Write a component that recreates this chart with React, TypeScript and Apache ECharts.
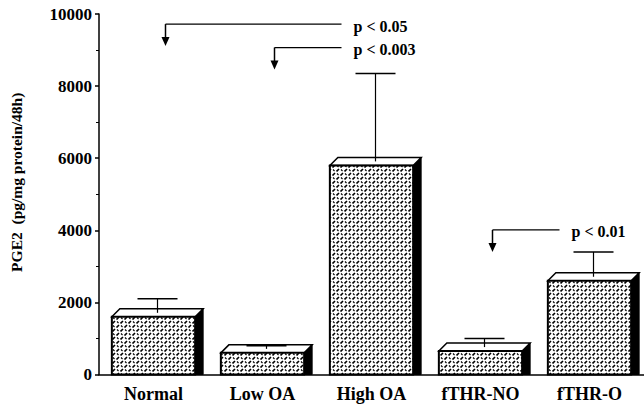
import React, { useEffect, useRef } from "react";
import * as echarts from "echarts";

const categories = ["Normal", "Low OA", "High OA", "fTHR-NO", "fTHR-O"];
const means = [1600, 600, 5800, 650, 2600];
const errors = [500, 200, 2550, 350, 800];
const yTicks = [0, 2000, 4000, 6000, 8000, 10000];
const pLabels = ["p < 0.05", "p < 0.003", "p < 0.01"];
const pFrom = [0, 1, 3];
const pTo = [2, 2, 4];
const pLevel = [9720, 9070, 4010];

const FONT = "'Liberation Serif', 'Times New Roman', serif";

const tileSvg =
  "<svg xmlns='http://www.w3.org/2000/svg' width='8' height='8'>" +
  "<rect width='8' height='8' fill='white'/>" +
  "<path d='M0.5 3.5 L3 1 M4.5 7.5 L7 5' stroke='black' stroke-width='1.6'/>" +
  "<path d='M5 1.5 L6.5 3 M1 5.5 L2.5 7' stroke='black' stroke-width='1.1'/>" +
  "</svg>";
const tileUrl = "data:image/svg+xml;utf8," + encodeURIComponent(tileSvg);

export default function App() {
  const ref = useRef<HTMLDivElement>(null);
  useEffect(() => {
    document.body.style.margin = "0";
    const chart = echarts.init(ref.current!, null, { renderer: "svg" });
    const D = 8;
    chart.setOption({
      animation: false,
      backgroundColor: "#ffffff",
      grid: { left: 95, top: 14, width: 550, height: 360.5 },
      xAxis: {
        type: "category",
        data: categories,
        boundaryGap: true,
        axisLine: { show: true, lineStyle: { color: "#000", width: 1.5 } },
        axisTick: { show: false },
        axisLabel: {
          color: "#000",
          fontFamily: FONT,
          fontWeight: "bold",
          fontSize: 18,
          margin: 10,
        },
      },
      yAxis: {
        type: "value",
        min: yTicks[0],
        max: yTicks[yTicks.length - 1],
        interval: 2000,
        splitLine: { show: false },
        axisLine: { show: true, lineStyle: { color: "#000", width: 1.5 } },
        axisTick: { show: true, length: 4, lineStyle: { color: "#000", width: 1.5 } },
        minorTick: { show: true, splitNumber: 2, length: 3, lineStyle: { color: "#000", width: 1 } },
        axisLabel: {
          color: "#000",
          fontFamily: FONT,
          fontWeight: "bold",
          fontSize: 17,
          margin: 7,
          formatter: (v: number) => String(v),
        },
        name: "PGE2  (pg/mg protein/48h)",
        nameLocation: "middle",
        nameGap: 75,
        nameTextStyle: {
          fontFamily: FONT,
          fontWeight: "bold",
          fontSize: 15.5,
          color: "#000",
          padding: [0, 0, 0, 24],
        },
      },
      series: [
        {
          type: "custom",
          name: "bars",
          data: means.map((m, i) => [i, m]),
          encode: { x: 0, y: 1 },
          renderItem: (params: any, api: any) => {
            const idx = api.value(0);
            const v = api.value(1);
            const [cx, yTop] = api.coord([idx, v]);
            const [, yBase] = api.coord([idx, 0]);
            const bw = api.size([1, 0])[0] * 0.764;
            const x0 = cx - bw / 2;
            const x1 = cx + bw / 2;
            return {
              type: "group",
              children: [
                {
                  type: "polygon",
                  shape: { points: [[x1, yTop], [x1 + D, yTop - D], [x1 + D, yBase], [x1, yBase]] },
                  style: { fill: "#000", stroke: "#000", lineWidth: 1 },
                },
                {
                  type: "polygon",
                  shape: { points: [[x0, yTop], [x0 + D, yTop - D], [x1 + D, yTop - D], [x1, yTop]] },
                  style: { fill: "#fff", stroke: "#000", lineWidth: 1.5 },
                },
                {
                  type: "rect",
                  shape: { x: x0, y: yTop, width: bw, height: yBase - yTop },
                  style: {
                    fill: { image: tileUrl, repeat: "repeat", imageWidth: 8, imageHeight: 8 },
                    stroke: "#000",
                    lineWidth: 2,
                  },
                },
              ],
            };
          },
          z: 2,
        },
        {
          type: "custom",
          name: "errors",
          data: means.map((m, i) => [i, m, m + errors[i]]),
          encode: { x: 0, y: [1, 2] },
          renderItem: (params: any, api: any) => {
            const idx = api.value(0);
            const [cx, yTop] = api.coord([idx, api.value(1)]);
            const [, yErr] = api.coord([idx, api.value(2)]);
            const sx = cx + 4;
            return {
              type: "group",
              children: [
                {
                  type: "line",
                  shape: { x1: sx, y1: yTop - 4, x2: sx, y2: yErr },
                  style: { stroke: "#000", lineWidth: 1.2 },
                },
                {
                  type: "line",
                  shape: { x1: sx - 20, y1: yErr, x2: sx + 20, y2: yErr },
                  style: { stroke: "#000", lineWidth: 1.5 },
                },
              ],
            };
          },
          z: 3,
        },
        {
          type: "custom",
          name: "annotations",
          data: pLabels.map((_, k) => [pFrom[k], pLevel[k], pTo[k], k]),
          encode: { x: 0, y: 1 },
          renderItem: (params: any, api: any) => {
            const [fx, ly] = api.coord([api.value(0), api.value(1)]);
            const [tx] = api.coord([api.value(2), api.value(1)]);
            const ax = fx + 12;
            const ex = tx - 30;
            const label = pLabels[api.value(3)];
            return {
              type: "group",
              children: [
                {
                  type: "line",
                  shape: { x1: ax, y1: ly, x2: ex, y2: ly },
                  style: { stroke: "#000", lineWidth: 1.2 },
                },
                {
                  type: "line",
                  shape: { x1: ax, y1: ly, x2: ax, y2: ly + 14 },
                  style: { stroke: "#000", lineWidth: 1.5 },
                },
                {
                  type: "polygon",
                  shape: { points: [[ax - 4, ly + 13], [ax + 4, ly + 13], [ax, ly + 22]] },
                  style: { fill: "#000" },
                },
                {
                  type: "text",
                  style: {
                    x: ex + 12,
                    y: ly + 2,
                    text: label,
                    fill: "#000",
                    font: `bold 16px ${FONT}`,
                    verticalAlign: "middle",
                    align: "left",
                  },
                },
              ],
            };
          },
          z: 4,
        },
      ],
    });
    return () => chart.dispose();
  }, []);
  return <div ref={ref} style={{ width: 644, height: 406 }} />;
}
